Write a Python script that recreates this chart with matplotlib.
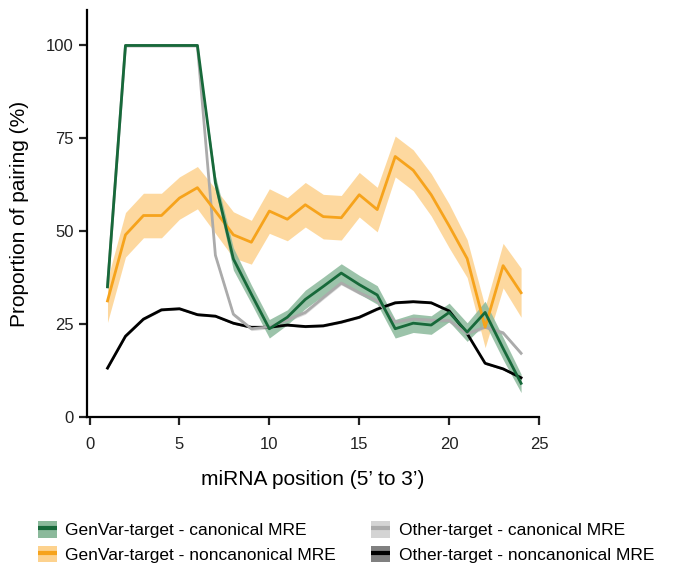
import matplotlib
matplotlib.use('Agg')
import matplotlib.pyplot as plt
from matplotlib.patches import Patch
from matplotlib.lines import Line2D
import numpy as np

plt.rcParams['font.family'] = ['Liberation Sans', 'DejaVu Sans']

# miRNA positions 1..24
pos = np.arange(1, 25)

# GenVar-target, canonical MRE
gv_can = [35, 100, 100, 100, 100, 100, 63, 42.5, 33, 23.7, 26.8, 31.6,
          35.1, 38.7, 35.6, 32.8, 23.7, 25.2, 24.7, 28.1, 22.8, 28.1, 18.4, 9]
gv_can_err = [0, 0, 0, 0, 0, 0, 2, 3, 2.5, 2.5, 2, 2.5,
              2.5, 2.5, 2.5, 2.5, 2.5, 2.5, 2.5, 2.5, 2.5, 3, 3, 2.5]

# GenVar-target, noncanonical MRE
gv_non = [31.2, 49.0, 54.2, 54.2, 58.9, 61.7, 55.4, 49.0, 47.0, 55.4, 53.2, 57.1,
          53.9, 53.6, 59.8, 55.8, 70.1, 66.4, 59.8, 51.4, 42.6, 24.1, 40.7, 33.4]
gv_non_err = [5.8, 6, 6, 6, 5.7, 5.7, 6, 6.2, 5.9, 6, 5.8, 6,
              6, 6, 6, 6, 5.5, 5.5, 5.7, 5.9, 5.1, 5.5, 6, 6.6]

# Other-target, canonical MRE
ot_can = [35, 100, 100, 100, 100, 100, 43.5, 27.6, 23.7, 24.2, 26.1, 28.1,
          32.1, 36.0, 33.4, 31.2, 25.5, 26.3, 26.0, 25.9, 22.4, 24.1, 22.6, 17.1]
ot_can_err = [0.5] * 24

# Other-target, noncanonical MRE
ot_non = [13.1, 21.7, 26.3, 28.8, 29.1, 27.5, 27.1, 25.2, 24.1, 24.1, 24.7, 24.3,
          24.5, 25.5, 26.8, 29.0, 30.7, 31.0, 30.7, 28.5, 22.4, 14.4, 12.9, 10.5]
ot_non_err = [0.3] * 24

labels = ['GenVar-target - canonical MRE', 'GenVar-target - noncanonical MRE',
          'Other-target - canonical MRE', 'Other-target - noncanonical MRE']

series = [
    (ot_non, ot_non_err, '#000000', '#808080'),
    (ot_can, ot_can_err, '#ababab', '#d4d4d4'),
    (gv_non, gv_non_err, '#f6a31c', '#fdd28e'),
    (gv_can, gv_can_err, '#17693a', '#8bb99b'),
]

fig = plt.figure(figsize=(6.73, 5.67), dpi=100)
ax = fig.add_axes([0.129, 0.265, 0.672, 0.717])

for vals, err, lc, fc in series:
    v = np.array(vals)
    e = np.array(err)
    ax.fill_between(pos, v - e, v + e, color=fc, alpha=0.85, linewidth=0)
    ax.plot(pos, v, color=lc, linewidth=2)

ax.set_xlim(-0.15, 25)
ax.set_ylim(0, 109.5)
ax.set_xticks([0, 5, 10, 15, 20, 25])
ax.set_yticks([0, 25, 50, 75, 100])
ax.spines['top'].set_visible(False)
ax.spines['right'].set_visible(False)
ax.spines['left'].set_linewidth(1.6)
ax.spines['bottom'].set_linewidth(1.6)
ax.tick_params(width=1.6, length=5.5, labelsize=12, colors='#222222')
ax.tick_params(axis='x', pad=9)
ax.tick_params(axis='y', pad=4)
ax.set_xlabel('miRNA position (5\u2019 to 3\u2019)', fontsize=15)
ax.set_ylabel('Proportion of pairing (%)', fontsize=15)
ax.xaxis.set_label_coords(0.5, -0.13)
ax.yaxis.set_label_coords(-0.127, 0.5)

handles = []
for vals, err, lc, fc in [series[3], series[2], series[1], series[0]]:
    handles.append((Patch(facecolor=fc, edgecolor='none'),
                    Line2D([], [], color=lc, linewidth=3, solid_capstyle='butt')))

fig.legend(handles, labels, ncol=2, loc='upper left',
           bbox_to_anchor=(0.056, 0.081), frameon=False, fontsize=12.5,
           handlelength=1.1, handleheight=1.1, handletextpad=0.5,
           columnspacing=2.0, labelspacing=0.42, borderaxespad=0,
           borderpad=0)

fig.savefig('out.png', dpi=100)
